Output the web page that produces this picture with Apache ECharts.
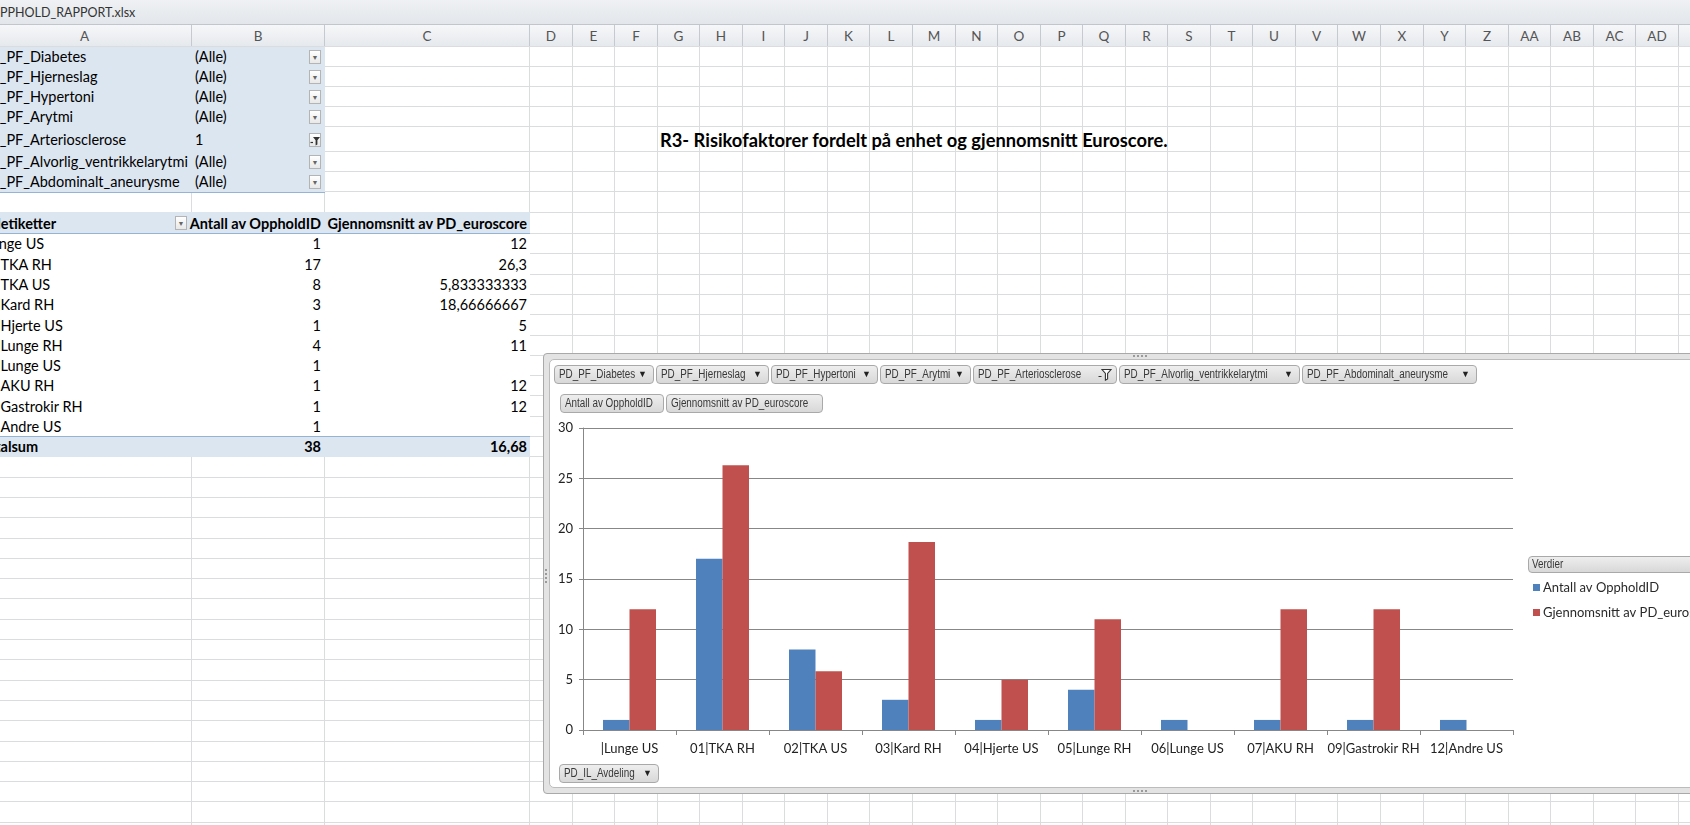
<!DOCTYPE html>
<html lang="no">
<head>
<meta charset="utf-8">
<title>R3 - Risikofaktorer</title>
<script src="https://cdn.jsdelivr.net/npm/echarts@6/dist/echarts.min.js"></script>
<style>
html,body{margin:0;padding:0;}
body{width:1690px;height:825px;overflow:hidden;background:#fff;position:relative;font-family:Lato,"Open Sans",sans-serif;color:#000;}
.a{position:absolute;white-space:nowrap;}
.btn{position:absolute;height:19px;box-sizing:border-box;border:1px solid #a9a9a9;border-radius:4px;background:linear-gradient(#eeeeee,#d8d8d8);font-family:"Liberation Sans",Arial,sans-serif;font-size:12.5px;color:#383838;line-height:17px;padding-left:4px;overflow:hidden;white-space:nowrap;}
.btn .lbl{display:inline-block;transform:scaleX(0.79);transform-origin:0 50%;}
.btn .arr{position:absolute;right:6px;top:0;font-size:9px;color:#222;line-height:17px;}
.dd{position:absolute;width:12px;height:14px;box-sizing:border-box;border:1px solid #b4b4b4;background:linear-gradient(#ffffff,#e8e8e8);font-size:7px;color:#666;text-align:center;line-height:12px;}
</style>
</head>
<body>
<div id="sheet" class="a" style="left:0;top:0;width:1690px;height:825px;overflow:hidden;"></div>
<div id="frame" class="a" style="left:543px;top:353px;width:1160px;height:441px;box-sizing:border-box;border:1px solid #a9a9a9;border-radius:4px;background:#e3e3e3;"></div>
<div id="inner" class="a" style="left:549px;top:359px;width:1150px;height:429px;box-sizing:border-box;border:1px solid #bcbcbc;border-radius:5px;background:#fff;"></div>
<div id="chart" class="a" style="left:550px;top:360px;width:1140px;height:427px;"></div>
<div id="overlay" class="a" style="left:0;top:0;width:1690px;height:825px;pointer-events:none;overflow:hidden;"></div>
<script>
// ---------------- data ----------------
const fileName = "OPPHOLD_RAPPORT.xlsx";
const reportTitle = "R3- Risikofaktorer fordelt på enhet og gjennomsnitt Euroscore.";
const columnLetters = ["A","B","C","D","E","F","G","H","I","J","K","L","M","N","O","P","Q","R","S","T","U","V","W","X","Y","Z","AA","AB","AC","AD","AE"];
const filterFields = ["PD_PF_Diabetes","PD_PF_Hjerneslag","PD_PF_Hypertoni","PD_PF_Arytmi","PD_PF_Arteriosclerose","PD_PF_Alvorlig_ventrikkelarytmi","PD_PF_Abdominalt_aneurysme"];
const filterValues = ["(Alle)","(Alle)","(Alle)","(Alle)","1","(Alle)","(Alle)"];
const filteredField = "PD_PF_Arteriosclerose";
const rowFieldHeader = "Radetiketter";
const rowField = "PD_IL_Avdeling";
const legendTitle = "Verdier";
const seriesNames = ["Antall av OppholdID","Gjennomsnitt av PD_euroscore"];
const categories = ["|Lunge US","01|TKA RH","02|TKA US","03|Kard RH","04|Hjerte US","05|Lunge RH","06|Lunge US","07|AKU RH","09|Gastrokir RH","12|Andre US"];
const antallValues = [1,17,8,3,1,4,1,1,1,1];
const euroscoreValues = [12,26.3,5.833333333,18.66666667,5,11,null,12,12,null];
const totalLabel = "Totalsum";
const totalEuroscore = 16.68;
const yMin = 0, yMax = 30, yStep = 5;

// ---------------- helpers ----------------
function el(parent, css, html){const d=document.createElement('div');d.className='a';d.style.cssText=css;if(html!=null)d.innerHTML=html;parent.appendChild(d);return d;}
function txt(parent, css, t){const d=el(parent, css);d.textContent=t;return d;}
function fmt(v){if(v==null)return '';return String(Number(v.toPrecision(10))).replace('.',',');}
const sheet=document.getElementById('sheet');
const ov=document.getElementById('overlay');

// ---------------- spreadsheet grid ----------------
const colX=[-22,192,325,530];
for(let i=1;i<=28;i++) colX.push(530+42.55*i);
const rowY=[47,67,87,107,127,152,172,192,213,234];
for(let k=1;k<=29;k++) rowY.push(234+20.3*k);

// title bar
el(sheet,'left:0;top:0;width:1690px;height:25px;box-sizing:border-box;background:linear-gradient(#eff1f4,#e3e6ea);border-bottom:1px solid #c2c6cc;');
txt(sheet,'left:-10px;top:0;height:24px;line-height:25px;font-size:12.5px;color:#333;',fileName);

// column headers
for(let i=0;i<colX.length-1;i++){
  const x0=Math.round(colX[i]),x1=Math.round(colX[i+1]);
  const h=el(sheet,`left:${x0}px;top:25px;width:${x1-x0}px;height:22px;box-sizing:border-box;background:linear-gradient(#f6f7f9,#e6e9ed);border-right:1px solid #c6cad0;border-bottom:1px solid #b6bbc2;text-align:center;line-height:22px;font-size:13.5px;color:#555;`);
  h.textContent=columnLetters[i];
}
// gridlines
for(let i=1;i<colX.length;i++) el(sheet,`left:${Math.round(colX[i])-1}px;top:47px;width:1px;height:778px;background:#dadcdd;`);
for(const y of rowY) el(sheet,`left:0;top:${Math.round(y)-1}px;width:1690px;height:1px;background:#dadcdd;`);

// pivot fills
el(sheet,'left:0;top:47px;width:325px;height:146px;box-sizing:border-box;background:#dce6f1;border-bottom:1px solid #95b3d7;');
el(sheet,'left:0;top:212px;width:530px;height:22px;box-sizing:border-box;background:#dce6f1;border-bottom:1px solid #95b3d7;');
el(sheet,'left:0;top:234px;width:530px;height:203px;background:#fff;');
el(sheet,'left:0;top:436px;width:530px;height:21px;box-sizing:border-box;background:#dce6f1;border-top:1px solid #95b3d7;');

const labelX=-20;
const fs='font-size:14.5px;';
// filter rows
for(let i=0;i<filterFields.length;i++){
  const t=Math.round(rowY[i]),h=Math.round(rowY[i+1])-t;
  txt(sheet,`left:${labelX}px;top:${t}px;height:${h}px;line-height:${h}px;${fs}`,filterFields[i]);
  txt(sheet,`left:195px;top:${t}px;height:${h}px;line-height:${h}px;${fs}`,filterValues[i]);
  const filtered = filterFields[i]===filteredField;
  const d=el(sheet,`left:309px;top:${t+Math.round((h-14)/2)}px;`, filtered
    ? '<svg width="12" height="14" viewBox="0 0 12 14" style="display:block;margin:-1px"><path d="M1.5 9.5h2.5" stroke="#333" stroke-width="1.2"/><path d="M4 4h7l-2.6 3.2v4.3l-1.8 0.9v-5.2z" fill="#333"/></svg>'
    : null);
  d.className='dd';
  if(!filtered) d.textContent='▼';
}
// header row
{
  const t=213,h=21;
  txt(sheet,`left:-24px;top:${t}px;height:${h}px;line-height:${h}px;${fs}font-weight:bold;`,rowFieldHeader);
  const d=el(sheet,`left:175px;top:${t+3}px;`);d.className='dd';d.textContent='▼';
  txt(sheet,`left:21px;top:${t}px;width:300px;text-align:right;height:${h}px;line-height:${h}px;${fs}font-weight:bold;`,seriesNames[0]);
  txt(sheet,`left:227px;top:${t}px;width:300px;text-align:right;height:${h}px;line-height:${h}px;${fs}font-weight:bold;`,seriesNames[1]);
}
// data rows
for(let i=0;i<categories.length;i++){
  const t=Math.round(rowY[9+i]),h=Math.round(rowY[10+i])-t;
  txt(sheet,`left:${labelX}px;top:${t}px;height:${h}px;line-height:${h}px;${fs}`,categories[i]);
  txt(sheet,`left:121px;top:${t}px;width:200px;text-align:right;height:${h}px;line-height:${h}px;${fs}`,fmt(antallValues[i]));
  txt(sheet,`left:227px;top:${t}px;width:300px;text-align:right;height:${h}px;line-height:${h}px;${fs}`,fmt(euroscoreValues[i]));
}
// total row
{
  const t=437,h=20;
  const totalAntall=antallValues.reduce((s,v)=>s+v,0);
  txt(sheet,`left:${labelX}px;top:${t}px;height:${h}px;line-height:${h}px;${fs}font-weight:bold;`,totalLabel);
  txt(sheet,`left:121px;top:${t}px;width:200px;text-align:right;height:${h}px;line-height:${h}px;${fs}font-weight:bold;`,fmt(totalAntall));
  txt(sheet,`left:227px;top:${t}px;width:300px;text-align:right;height:${h}px;line-height:${h}px;${fs}font-weight:bold;`,fmt(totalEuroscore));
}
// report title (cell G5)
txt(sheet,'left:660px;top:127px;height:25px;line-height:26px;font-size:18.3px;font-weight:bold;',reportTitle);

// ---------------- chart frame handles ----------------
el(ov,'left:1133px;top:355px;width:14px;height:0;border-top:2px dotted #9a9a9a;');
el(ov,'left:1133px;top:790px;width:14px;height:0;border-top:2px dotted #9a9a9a;');
el(ov,'left:545px;top:569px;width:0;height:14px;border-left:2px dotted #9a9a9a;');

// ---------------- pivot chart field buttons ----------------
function button(left,top,width,label,icon){
  const b=el(ov,`left:${left}px;top:${top}px;width:${width}px;`);
  b.className='btn';
  const s=document.createElement('span');s.className='lbl';s.textContent=label;b.appendChild(s);
  if(icon==='arrow'){const a=document.createElement('span');a.className='arr';a.textContent='▼';b.appendChild(a);}
  if(icon==='filter'){const a=document.createElement('span');a.className='arr';a.style.top='2px';a.style.right='4px';a.innerHTML='<svg width="14" height="13" viewBox="0 0 14 13"><path d="M0.5 8.5h3" stroke="#333" stroke-width="1.2"/><path d="M4 1.5h9l-3.4 4v5.5l-2.2 1.2v-6.7z" fill="#fff" stroke="#333" stroke-width="1.1"/></svg>';b.appendChild(a);}
  return b;
}
const fw=[100,113,107,91,144,181,175];
let bx=554;
for(let i=0;i<filterFields.length;i++){
  button(bx,365,fw[i],filterFields[i],filterFields[i]===filteredField?'filter':'arrow');
  bx+=fw[i]+2;
}
button(560,394,104,seriesNames[0],null);
button(666,394,157,seriesNames[1],null);
button(559,764,100,rowField,'arrow');
const vb=button(1528,556,200,legendTitle,null);
vb.style.height='17px';vb.style.lineHeight='15px';vb.style.paddingLeft='3px';

// ---------------- ECharts ----------------
const chart=echarts.init(document.getElementById('chart'),null,{renderer:'canvas'});
const axisGray='#878787';
chart.setOption({
  animation:false,
  textStyle:{fontFamily:'Lato, "Open Sans", sans-serif'},
  grid:{left:33,top:68,width:930,height:302,containLabel:false},
  legend:{
    orient:'vertical',left:983,top:221,padding:0,itemWidth:7,itemHeight:7,itemGap:12,icon:'rect',
    data:seriesNames,selectedMode:false,
    textStyle:{fontSize:13,color:'#2a2a2a',padding:[0,0,0,-2]}
  },
  xAxis:{
    type:'category',data:categories,
    axisLine:{show:true,lineStyle:{color:axisGray,width:1}},
    axisTick:{show:true,length:5,alignWithLabel:false,lineStyle:{color:axisGray}},
    axisLabel:{interval:0,fontSize:13,color:'#222',margin:12},
    splitLine:{show:false}
  },
  yAxis:{
    type:'value',min:yMin,max:yMax,interval:yStep,
    axisLine:{show:true,lineStyle:{color:axisGray,width:1}},
    axisTick:{show:true,length:4,lineStyle:{color:axisGray}},
    axisLabel:{fontSize:13,color:'#222',margin:10},
    splitLine:{show:true,lineStyle:{color:axisGray,width:1}}
  },
  series:[
    {type:'bar',name:seriesNames[0],data:antallValues,barWidth:26.5,barGap:'0%',itemStyle:{color:'#4F81BD'}},
    {type:'bar',name:seriesNames[1],data:euroscoreValues,barWidth:26.5,barGap:'0%',itemStyle:{color:'#C0504D'}}
  ]
});
</script>
</body>
</html>
